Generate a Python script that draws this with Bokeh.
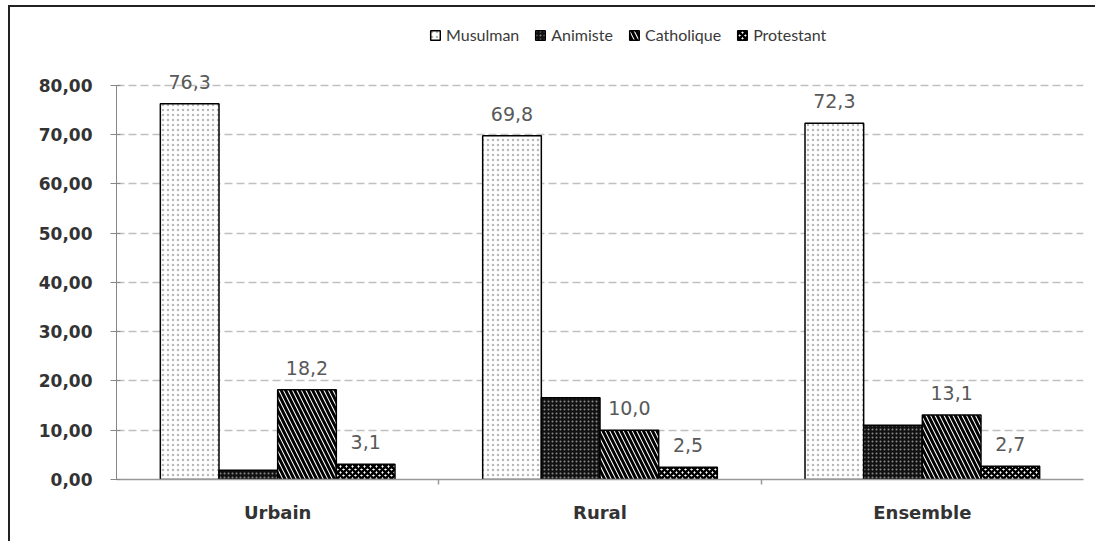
from bokeh.plotting import figure
from bokeh.models import ColumnDataSource, FixedTicker, Range1d, Legend, LegendItem
from bokeh.transform import dodge
from bokeh.core.properties import value
from bokeh.layouts import column
from bokeh.embed import file_html
from bokeh.resources import INLINE

categories = ["Urbain", "Rural", "Ensemble"]
series = ["Musulman", "Animiste", "Catholique", "Protestant"]
musulman = [76.3, 69.8, 72.3]
animiste = [1.9, 16.6, 11.0]
catholique = [18.2, 10.0, 13.1]
protestant = [3.1, 2.5, 2.7]
labelled = [True, False, True, True]
y_ticks = [0, 10, 20, 30, 40, 50, 60, 70, 80]
y_tick_labels = ["0,00", "10,00", "20,00", "30,00", "40,00", "50,00", "60,00", "70,00", "80,00"]

values = [musulman, animiste, catholique, protestant]
styles = [
    dict(fill_color="white", hatch_pattern="dot", hatch_color="#b8b8b8", hatch_scale=5, hatch_weight=1),
    dict(fill_color="#111111", hatch_pattern="dot", hatch_color="#8a8a8a", hatch_scale=4, hatch_weight=1.5),
    dict(fill_color="white", hatch_pattern="left_diagonal_line", hatch_color="black", hatch_scale=9, hatch_weight=3),
    dict(fill_color="white", hatch_pattern="diagonal_cross", hatch_color="black", hatch_scale=6, hatch_weight=2.5),
]

xpos = [i + 0.5 for i in range(len(categories))]
bar_w = 0.182

p = figure(width=1085, height=534, x_range=Range1d(0, 3), y_range=Range1d(0, 94.2),
           output_backend="svg", toolbar_location=None,
           min_border_left=106, min_border_right=12, min_border_top=8, min_border_bottom=62)
p.outline_line_color = None
p.xgrid.grid_line_color = None
p.ygrid.grid_line_color = "#c0c0c0"
p.ygrid.grid_line_dash = "8 4"
p.ygrid.grid_line_width = 1.5

items = []
for k, (name, vals, st) in enumerate(zip(series, values, styles)):
    off = (k - 1.5) * bar_w
    src = ColumnDataSource(dict(x=xpos, top=vals,
                                lbl=[f"{v:.1f}".replace(".", ",") for v in vals]))
    r = p.vbar(x=dodge("x", off), top="top", width=bar_w, source=src,
               line_color="black", line_width=1.5, **st)
    items.append(LegendItem(label=name, renderers=[r]))
    if labelled[k]:
        p.text(x=dodge("x", off), y="top", text="lbl", source=src,
               text_align="center", text_baseline="bottom", y_offset=-15,
               text_font=value("DejaVu Sans"), text_font_size="19px", text_color="#595959")

legend = Legend(items=items, orientation="horizontal", location=(313, 435),
                border_line_color=None, background_fill_alpha=0,
                label_text_font="Lato", label_text_font_size="16px", label_text_color="#3a3a3a",
                glyph_width=12, glyph_height=12, label_standoff=5, spacing=15,
                padding=0, margin=0)
p.add_layout(legend, "center")

# y axis
p.yaxis.ticker = FixedTicker(ticks=y_ticks)
p.yaxis.major_label_overrides = {t: l for t, l in zip(y_ticks, y_tick_labels)}
p.yaxis.bounds = (0, 80)
p.yaxis.axis_line_color = "#888888"
p.yaxis.major_tick_line_color = "#888888"
p.yaxis.major_tick_in = 4
p.yaxis.major_tick_out = 6
p.yaxis.minor_tick_line_color = None
p.yaxis.major_label_standoff = 18
p.yaxis.major_label_text_font = "DejaVu Sans"
p.yaxis.major_label_text_font_style = "bold"
p.yaxis.major_label_text_font_size = "17px"
p.yaxis.major_label_text_color = "#333333"

# x axis
p.xaxis.ticker = FixedTicker(ticks=xpos, minor_ticks=[1, 2])
p.xaxis.major_label_overrides = {x: c for x, c in zip(xpos, categories)}
p.xaxis.axis_line_color = "#999999"
p.xaxis.axis_line_width = 1.5
p.xaxis.major_tick_line_color = None
p.xaxis.major_tick_out = 0
p.xaxis.major_tick_in = 0
p.xaxis.minor_tick_line_color = "#999999"
p.xaxis.minor_tick_line_width = 1.5
p.xaxis.minor_tick_out = 5
p.xaxis.minor_tick_in = 0
p.xaxis.major_label_standoff = 17
p.xaxis.major_label_text_font = "DejaVu Sans"
p.xaxis.major_label_text_font_style = "bold"
p.xaxis.major_label_text_font_size = "18px"
p.xaxis.major_label_text_color = "#333333"

layout = column(p, styles={"border-left": "2px solid #222222", "border-top": "2px solid #222222",
                           "margin-left": "8px", "margin-top": "5px"})
open("out.html", "w").write(file_html(layout, INLINE))
